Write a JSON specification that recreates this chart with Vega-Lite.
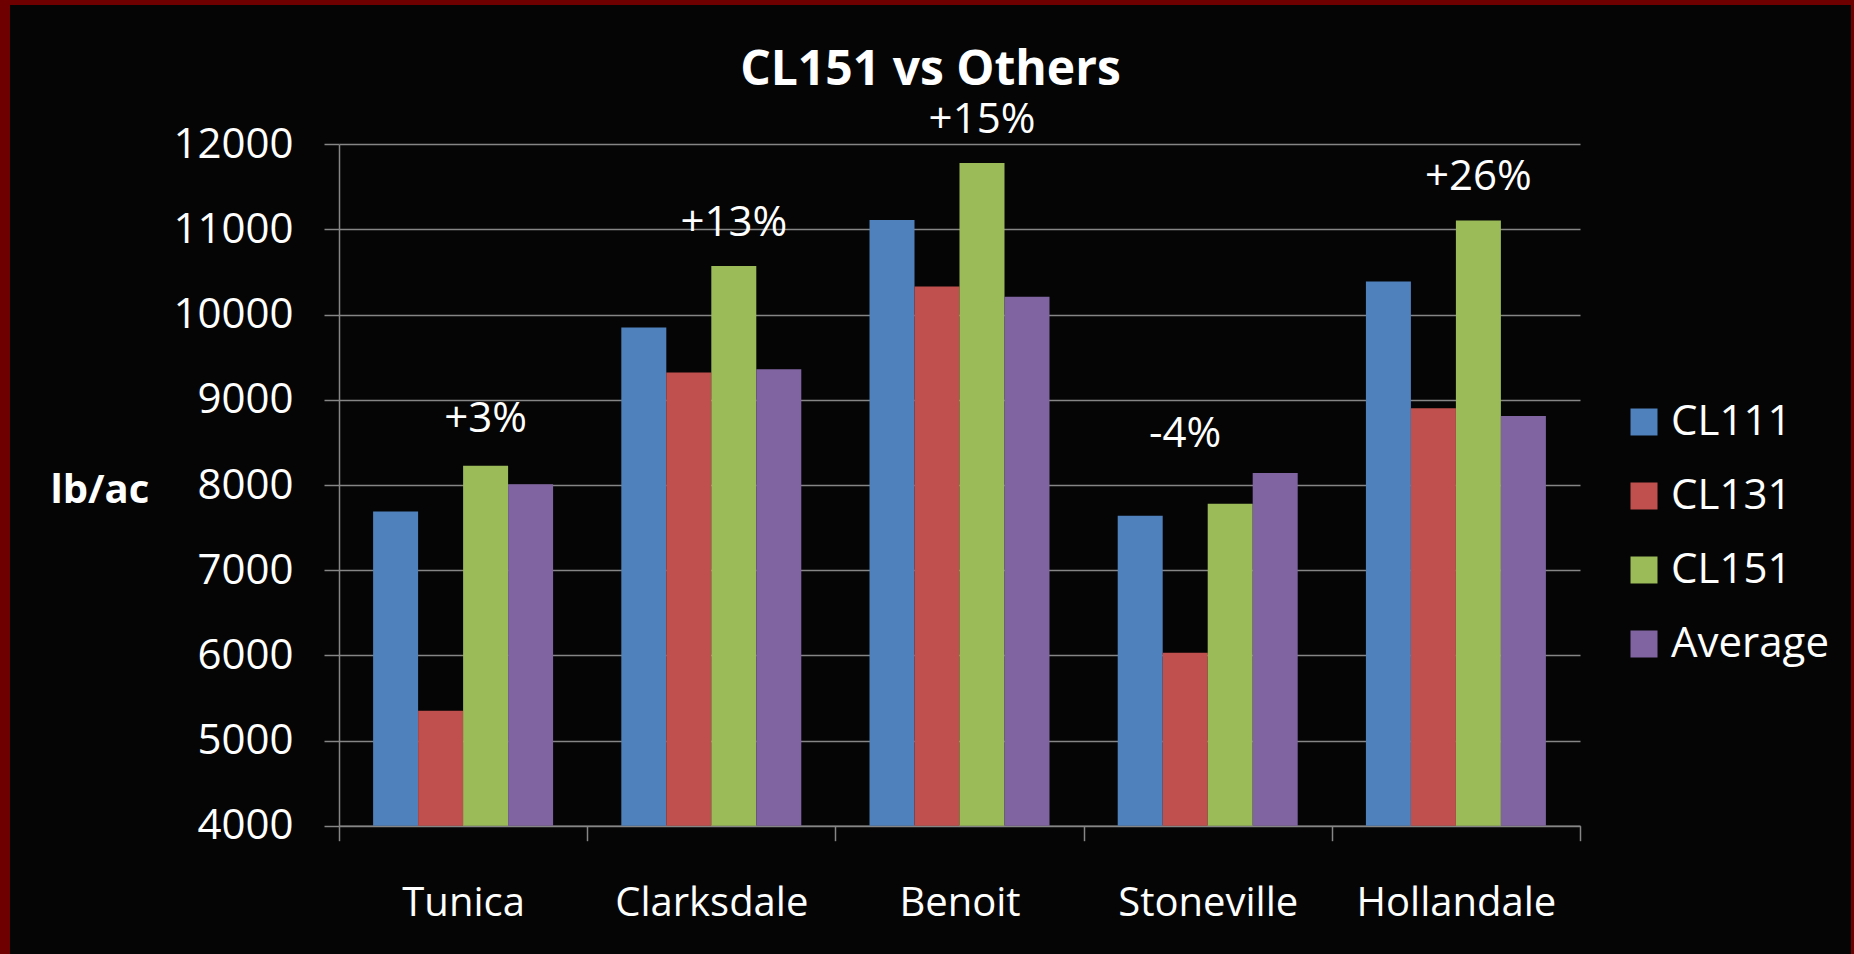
{
  "$schema": "https://vega.github.io/schema/vega-lite/v6.json",
  "width": 1841,
  "height": 949,
  "autosize": {"type": "none"},
  "padding": {"left": 10, "top": 5, "right": 3, "bottom": 0},
  "background": "#6e0000",
  "title": {"text": "CL151 vs Others", "fontSize": 48, "fontWeight": "bold", "color": "#ffffff", "font": "Open Sans", "anchor": "middle", "frame": "group", "offset": -90},
  "datasets": {
    "yields": [
      {"site": "Tunica", "variety": "CL111", "yield": 7690},
      {"site": "Tunica", "variety": "CL131", "yield": 5350},
      {"site": "Tunica", "variety": "CL151", "yield": 8225},
      {"site": "Tunica", "variety": "Average", "yield": 8010},
      {"site": "Clarksdale", "variety": "CL111", "yield": 9850},
      {"site": "Clarksdale", "variety": "CL131", "yield": 9320},
      {"site": "Clarksdale", "variety": "CL151", "yield": 10570},
      {"site": "Clarksdale", "variety": "Average", "yield": 9360},
      {"site": "Benoit", "variety": "CL111", "yield": 11110},
      {"site": "Benoit", "variety": "CL131", "yield": 10330},
      {"site": "Benoit", "variety": "CL151", "yield": 11780},
      {"site": "Benoit", "variety": "Average", "yield": 10210},
      {"site": "Stoneville", "variety": "CL111", "yield": 7640},
      {"site": "Stoneville", "variety": "CL131", "yield": 6030},
      {"site": "Stoneville", "variety": "CL151", "yield": 7780},
      {"site": "Stoneville", "variety": "Average", "yield": 8140},
      {"site": "Hollandale", "variety": "CL111", "yield": 10390},
      {"site": "Hollandale", "variety": "CL131", "yield": 8900},
      {"site": "Hollandale", "variety": "CL151", "yield": 11105},
      {"site": "Hollandale", "variety": "Average", "yield": 8810}
    ],
    "notes": [
      {"site": "Tunica", "variety": "CL151", "label": "+3%", "at": 8620},
      {"site": "Clarksdale", "variety": "CL151", "label": "+13%", "at": 10920},
      {"site": "Benoit", "variety": "CL151", "label": "+15%", "at": 12130},
      {"site": "Stoneville", "variety": "CL131", "label": "-4%", "at": 8445},
      {"site": "Hollandale", "variety": "CL151", "label": "+26%", "at": 11460}
    ]
  },
  "layer": [
    {
      "data": {"name": "yields"},
      "mark": {"type": "bar"},
      "encoding": {
        "x": {
          "field": "site", "type": "nominal",
          "sort": ["Tunica", "Clarksdale", "Benoit", "Stoneville", "Hollandale"],
          "scale": {"range": [329, 1570], "paddingInner": 0, "paddingOuter": 0},
          "axis": {
            "orient": "bottom", "offset": -128.3, "tickBand": "extent", "tickSize": 15,
            "labelPadding": 75, "labelBaseline": "alphabetic", "labelAngle": 0, "labelLimit": 0,
            "labelFontSize": 40, "labelColor": "#ffffff", "labelFont": "Open Sans",
            "title": null, "grid": false, "domainColor": "#868686", "tickColor": "#868686",
            "domainWidth": 1.5, "tickWidth": 1.5
          }
        },
        "xOffset": {
          "field": "variety", "type": "nominal",
          "sort": ["CL111", "CL131", "CL151", "Average"],
          "scale": {"domain": ["CL111", "CL131", "CL151", "Average"], "paddingInner": 0, "paddingOuter": 0.758}
        },
        "y": {
          "field": "yield", "type": "quantitative",
          "scale": {"domain": [4000, 12000], "range": [820.7, 139.3], "nice": false, "zero": false},
          "axis": {
            "orient": "left", "offset": -329,
            "values": [4000, 5000, 6000, 7000, 8000, 9000, 10000, 11000, 12000],
            "format": "d", "tickSize": 15, "labelPadding": 31,
            "labelFontSize": 42, "labelColor": "#ffffff", "labelFont": "Open Sans",
            "grid": true, "gridColor": "#868686", "gridWidth": 1.5,
            "domainColor": "#868686", "tickColor": "#868686", "domainWidth": 1.5, "tickWidth": 1.5,
            "title": "lb/ac", "titleAngle": 0, "titleX": -289, "titleY": 497,
            "titleAlign": "left", "titleBaseline": "alphabetic",
            "titleFontSize": 40, "titleFontWeight": "bold", "titleColor": "#ffffff", "titleFont": "Open Sans"
          }
        },
        "y2": {"datum": 4000},
        "color": {
          "field": "variety", "type": "nominal",
          "scale": {"domain": ["CL111", "CL131", "CL151", "Average"], "range": ["#4f81bd", "#c0504d", "#9bbb59", "#8064a2"]},
          "legend": {
            "orient": "none", "legendX": 1613, "legendY": 396, "title": null,
            "symbolType": "square", "symbolSize": 729, "symbolStrokeWidth": 0, "symbolOpacity": 1,
            "labelFontSize": 42, "labelColor": "#ffffff", "labelFont": "Open Sans",
            "labelOffset": 6, "rowPadding": 32, "padding": 0
          }
        }
      }
    },
    {
      "data": {"name": "notes"},
      "mark": {"type": "text", "fontSize": 42, "font": "Open Sans", "color": "#ffffff", "baseline": "alphabetic", "align": "center"},
      "encoding": {
        "x": {"field": "site", "type": "nominal", "sort": ["Tunica", "Clarksdale", "Benoit", "Stoneville", "Hollandale"]},
        "xOffset": {"field": "variety", "type": "nominal"},
        "y": {"field": "at", "type": "quantitative"},
        "text": {"field": "label", "type": "nominal"}
      }
    }
  ],
  "config": {
    "font": "Open Sans",
    "view": {"fill": "#050505", "stroke": null}
  }
}
